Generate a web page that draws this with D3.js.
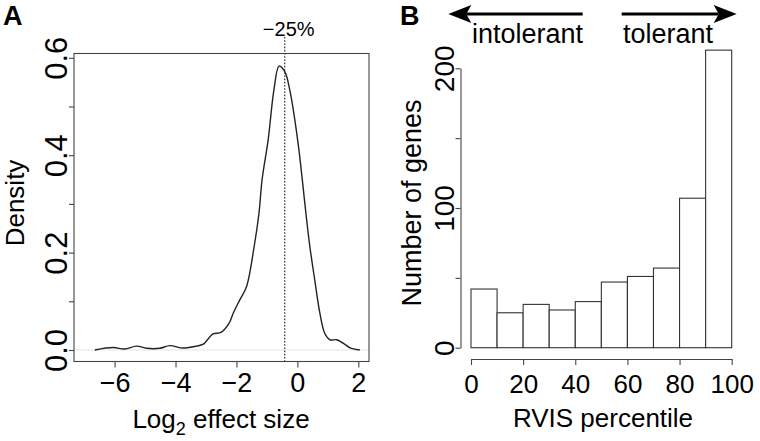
<!DOCTYPE html>
<html lang="en">
<head>
<meta charset="UTF-8">
<title>effect size / RVIS</title>
<script src="https://cdn.jsdelivr.net/npm/d3@7"></script>
<style>
  body { margin: 0; background: #fff; }
  svg { display: block; font-family: "Liberation Sans", Arial, Helvetica, sans-serif; }
  .axis path, .axis line { stroke: #444; stroke-width: 1.1; }
  .axis text { fill: #000; }
</style>
</head>
<body>
<div id="chart"></div>
<script>
// panel A: density of log2 effect sizes
var effectX = [-6.65, -6.05, -5.67, -5.28, -4.95, -4.52, -4.19, -3.75, -3.31, -3.09, -2.77, -2.51, -2.24, -2.11,
               -1.89, -1.67, -1.42, -1.26, -1.16, -0.96, -0.77, -0.6, -0.41, -0.25, 0.01, 0.18, 0.28, 0.41,
               0.57, 0.74, 0.9, 1.07, 1.29, 1.5, 1.75, 2.05];
var density = [0, 0.005, 0.002, 0.008, 0.0035, 0.0035, 0.009, 0.004, 0.008, 0.012, 0.033, 0.036, 0.055, 0.075,
               0.103, 0.13, 0.212, 0.281, 0.349, 0.431, 0.534, 0.583, 0.571, 0.534, 0.431, 0.339, 0.281, 0.212,
               0.144, 0.075, 0.034, 0.021, 0.021, 0.014, 0.004, 0];
var xTicksA = [-6, -4, -2, 0, 2];
var yTicksA = [0, 0.1, 0.2, 0.3, 0.4, 0.5, 0.6];
var yLabelsA = [0, 0.2, 0.4, 0.6];
var cutoff = Math.log2(0.75);   // -25%

// panel B: histogram of RVIS percentile
var binStart = [0, 10, 20, 30, 40, 50, 60, 70, 80, 90];
var geneCounts = [42, 25, 31, 27, 33, 47, 51, 57, 107, 213];
var xTicksB = [0, 20, 40, 60, 80, 100];
var yTicksB = [0, 50, 100, 150, 200];
var yLabelsB = [0, 100, 200];

var W = 760, H = 441;
var svg = d3.select("#chart").append("svg").attr("width", W).attr("height", H);

// ---------- A ----------
var xA = d3.scaleLinear().domain([-6, 2]).range([114.6, 358.3]);
var yA = d3.scaleLinear().domain([0, 0.6]).range([350, 57.8]);
var gA = svg.append("g");

gA.append("line")
    .attr("x1", 74).attr("x2", 369)
    .attr("y1", yA(0)).attr("y2", yA(0))
    .attr("stroke", "#ddd").attr("stroke-width", 0.8);

var line = d3.line()
    .x(function (d, i) { return xA(d); })
    .y(function (d, i) { return yA(density[i]); })
    .curve(d3.curveCatmullRom);

gA.append("path")
    .attr("d", line(effectX))
    .attr("fill", "none")
    .attr("stroke", "#222")
    .attr("stroke-width", 1.4);

gA.append("line")
    .attr("x1", xA(cutoff)).attr("x2", xA(cutoff))
    .attr("y1", 37).attr("y2", 361.5)
    .attr("stroke", "#222").attr("stroke-width", 1.1)
    .attr("stroke-dasharray", "1.6,1.6");

gA.append("text")
    .attr("x", xA(cutoff) + 4).attr("y", 35.7)
    .attr("text-anchor", "middle")
    .style("font-size", "20px")
    .text("\u221225%");

gA.append("rect")
    .attr("x", 74).attr("y", 53.5)
    .attr("width", 295).attr("height", 308)
    .attr("fill", "none").attr("stroke", "#444").attr("stroke-width", 1.1);

var axA = gA.append("g").attr("class", "axis")
    .attr("transform", "translate(0,361.5)")
    .call(d3.axisBottom(xA).tickValues(xTicksA).tickSize(6).tickSizeOuter(0));
axA.select(".domain").remove();
axA.selectAll("text").attr("y", 30).attr("dy", 0).style("font-size", "27px");

var ayA = gA.append("g").attr("class", "axis")
    .attr("transform", "translate(74,0)")
    .call(d3.axisLeft(yA).tickValues(yTicksA).tickSize(5).tickSizeOuter(0)
        .tickFormat(function (d) {
            return yLabelsA.some(function (v) { return Math.abs(v - d) < 1e-9; }) ? d3.format(".1f")(d) : "";
        }));
ayA.select(".domain").remove();
ayA.selectAll("text")
    .attr("transform", "rotate(-90)")
    .attr("x", 0).attr("y", -7.5).attr("dy", 0)
    .attr("text-anchor", "middle")
    .style("font-size", "31px");

gA.append("text")
    .attr("transform", "translate(24,203) rotate(-90)")
    .attr("text-anchor", "middle")
    .style("font-size", "26px")
    .text("Density");

var xl = gA.append("text")
    .attr("x", 221).attr("y", 428.3)
    .attr("text-anchor", "middle")
    .style("font-size", "26px");
xl.append("tspan").text("Log");
xl.append("tspan").attr("dy", 7).style("font-size", "18px").text("2");
xl.append("tspan").attr("dy", -7).text(" effect size");

svg.append("text")
    .attr("x", 3).attr("y", 25)
    .style("font-size", "27px").style("font-weight", "bold")
    .text("A");

// ---------- B ----------
var xB = d3.scaleLinear().domain([0, 100]).range([471, 731.7]);
var yB = d3.scaleLinear().domain([0, 200]).range([347.7, 68.3]);
var gB = svg.append("g");

gB.selectAll("rect.bar")
    .data(binStart)
    .enter().append("rect")
    .attr("class", "bar")
    .attr("x", function (d) { return xB(d); })
    .attr("width", function (d) { return xB(d + 10) - xB(d); })
    .attr("y", function (d, i) { return yB(geneCounts[i]); })
    .attr("height", function (d, i) { return yB(0) - yB(geneCounts[i]); })
    .attr("fill", "#fff")
    .attr("stroke", "#333")
    .attr("stroke-width", 1.1);

var axB = gB.append("g").attr("class", "axis")
    .attr("transform", "translate(0,359)")
    .call(d3.axisBottom(xB).tickValues(xTicksB).tickSize(6).tickSizeOuter(0));
axB.selectAll("text").attr("y", 34).attr("dy", 0).style("font-size", "26px");

var ayB = gB.append("g").attr("class", "axis")
    .attr("transform", "translate(460.5,0)")
    .call(d3.axisLeft(yB).tickValues(yTicksB).tickSize(5).tickSizeOuter(0)
        .tickFormat(function (d) { return yLabelsB.indexOf(d) >= 0 ? d : ""; }));
ayB.selectAll("text")
    .attr("transform", "rotate(-90)")
    .attr("x", 0).attr("y", -6.5).attr("dy", 0)
    .attr("text-anchor", "middle")
    .style("font-size", "28px");

gB.append("text")
    .attr("transform", "translate(421,203) rotate(-90)")
    .attr("text-anchor", "middle")
    .style("font-size", "27px")
    .text("Number of genes");

gB.append("text")
    .attr("x", 603).attr("y", 426.7)
    .attr("text-anchor", "middle")
    .style("font-size", "26px")
    .text("RVIS percentile");

svg.append("text")
    .attr("x", 400).attr("y", 25)
    .style("font-size", "27px").style("font-weight", "bold")
    .text("B");

// direction arrows
function arrow(x0, x1, y) {
    var dir = x1 > x0 ? 1 : -1;
    var back = x1 - dir * 23, notch = x1 - dir * 18;
    gB.append("line")
        .attr("x1", x0).attr("x2", notch)
        .attr("y1", y).attr("y2", y)
        .attr("stroke", "#000").attr("stroke-width", 2.8);
    gB.append("path")
        .attr("d", "M" + x1 + "," + y + "L" + back + "," + (y - 9) + "L" + notch + "," + y +
            "L" + back + "," + (y + 9) + "Z")
        .attr("fill", "#000");
}
arrow(582.7, 448.3, 14);
arrow(621.7, 736.7, 14);

gB.append("text")
    .attr("x", 527.5).attr("y", 42.7)
    .attr("text-anchor", "middle")
    .style("font-size", "27px")
    .text("intolerant");

gB.append("text")
    .attr("x", 668).attr("y", 42.7)
    .attr("text-anchor", "middle")
    .style("font-size", "27px")
    .text("tolerant");
</script>
</body>
</html>
